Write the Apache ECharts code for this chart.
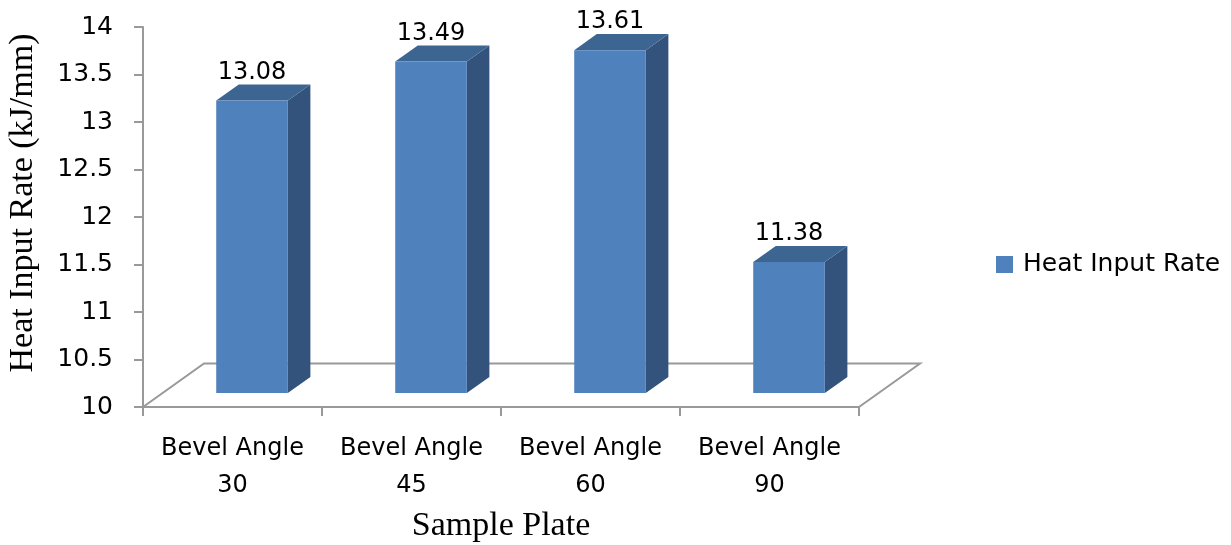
<!DOCTYPE html>
<html>
<head>
<meta charset="utf-8">
<script src="https://cdn.jsdelivr.net/npm/echarts@6/dist/echarts.min.js"></script>
<style>
html,body{margin:0;padding:0;background:#fff;}
#chart{width:1231px;height:545px;}
</style>
</head>
<body>
<div id="chart"></div>
<script>
// ---- data ----
var categories = ['Bevel Angle\n30', 'Bevel Angle\n45', 'Bevel Angle\n60', 'Bevel Angle\n90'];
var heatInputRate = [13.08, 13.49, 13.61, 11.38];
var seriesName = 'Heat Input Rate';
var yMin = 10, yMax = 14, yInterval = 0.5;

// ---- 3D style constants ----
var DEPTH_X = 61, DEPTH_Y = -43.5;   // floor depth vector (px)
var BAR_F0 = 0.32, BAR_F1 = 0.69;     // bar depth span as fraction of floor depth
var BAR_RATIO = 0.40;                 // bar width / band width
var COL_FRONT = '#4F81BD', COL_TOP = '#3D6592', COL_SIDE = '#33537D';
var GRID_COLOR = '#999999';
var SANS = 'DejaVu Sans';
var SERIF = 'Liberation Serif';

var chart = echarts.init(document.getElementById('chart'));

function floorItem(params, api) {
  var band = api.size([1, 0])[0];
  var fl = api.coord([0, yMin]);
  var fr = api.coord([categories.length - 1, yMin]);
  var x0 = fl[0] - band / 2, x1 = fr[0] + band / 2, y = fl[1];
  var style = {stroke: GRID_COLOR, lineWidth: 2, fill: null};
  return {
    type: 'group',
    children: [
      {type: 'polyline', shape: {points: [[x0, y], [x0 + DEPTH_X, y + DEPTH_Y], [x1 + DEPTH_X, y + DEPTH_Y], [x1, y]]}, style: style, silent: true}
    ]
  };
}

function barItem(params, api) {
  var idx = api.value(0), val = api.value(1);
  var top = api.coord([idx, val]);
  var base = api.coord([idx, yMin]);
  var band = api.size([1, 0])[0];
  var w = band * BAR_RATIO;
  var ox = DEPTH_X * BAR_F0, oy = DEPTH_Y * BAR_F0;
  var dx = DEPTH_X * (BAR_F1 - BAR_F0), dy = DEPTH_Y * (BAR_F1 - BAR_F0);
  var xl = top[0] - w / 2 + ox, xr = top[0] + w / 2 + ox;
  var yt = top[1] + oy, yb = base[1] + oy;
  return {
    type: 'group',
    children: [
      {type: 'polygon', shape: {points: [[xr, yt], [xr + dx, yt + dy], [xr + dx, yb + dy], [xr, yb]]}, style: {fill: COL_SIDE}},
      {type: 'polygon', shape: {points: [[xl, yt], [xl + dx, yt + dy], [xr + dx, yt + dy], [xr, yt]]}, style: {fill: COL_TOP}},
      {type: 'rect', shape: {x: xl, y: yt, width: w, height: yb - yt}, style: {fill: COL_FRONT}},
      {type: 'text', x: (xl + xr) / 2, y: yt + dy, style: {text: String(heatInputRate[idx].toFixed(2)), fill: '#000', font: '24px "' + SANS + '"', align: 'center', verticalAlign: 'bottom'}}
    ]
  };
}

var option = {
  animation: false,
  color: [COL_FRONT],
  grid: {left: 143, right: 372, top: 27, bottom: 138, containLabel: false, outerBoundsMode: 'none'},
  legend: {
    data: [seriesName],
    left: 991, top: 247,
    icon: 'rect', itemWidth: 17, itemHeight: 17,
    textStyle: {fontFamily: SANS, fontSize: 25, color: '#000', padding: [0, 0, 0, 5]}
  },
  xAxis: {
    type: 'category',
    data: categories,
    name: 'Sample Plate',
    nameLocation: 'middle',
    nameGap: 100,
    nameTextStyle: {fontFamily: SERIF, fontSize: 34, color: '#000'},
    axisLine: {show: true, lineStyle: {color: GRID_COLOR, width: 2}},
    axisTick: {show: true, alignWithLabel: false, length: 9, lineStyle: {color: GRID_COLOR, width: 2}},
    axisLabel: {fontFamily: SANS, fontSize: 24, lineHeight: 37, color: '#000', margin: 23, interval: 0},
    splitLine: {show: false}
  },
  yAxis: {
    type: 'value',
    min: yMin, max: yMax, interval: yInterval,
    name: 'Heat Input Rate (kJ/mm)',
    nameLocation: 'middle',
    nameRotate: 90,
    nameGap: 103,
    nameTextStyle: {fontFamily: SERIF, fontSize: 34, color: '#000', padding: [0, 0, 0, 28]},
    axisLine: {show: true, lineStyle: {color: GRID_COLOR, width: 2}},
    axisTick: {show: true, length: 9, lineStyle: {color: GRID_COLOR, width: 2}},
    axisLabel: {fontFamily: SANS, fontSize: 25, color: '#000', margin: 30},
    splitLine: {show: false}
  },
  series: [
    {
      name: 'floor',
      type: 'custom',
      silent: true,
      renderItem: floorItem,
      data: [[0, yMin]],
      z: 1
    },
    {
      name: seriesName,
      type: 'custom',
      renderItem: barItem,
      itemStyle: {color: COL_FRONT},
      encode: {x: 0, y: 1},
      data: heatInputRate.map(function (v, i) { return [i, v]; }),
      z: 2
    }
  ]
};
chart.setOption(option);
</script>
</body>
</html>
